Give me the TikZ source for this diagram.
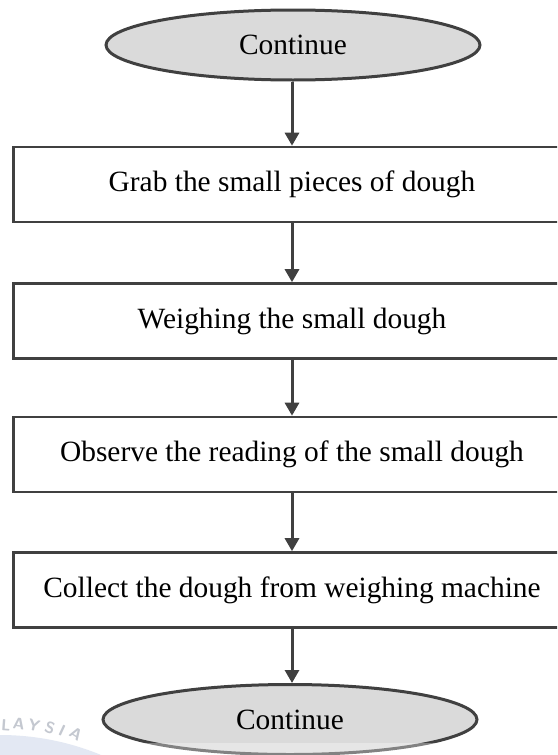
\documentclass[tikz,border=0pt]{standalone}
\usepackage{fontspec}
\setmainfont{Liberation Serif}
\usetikzlibrary{arrows.meta,shapes.geometric}

\definecolor{linegray}{HTML}{404040}
\definecolor{termfill}{HTML}{DADADA}
\definecolor{sealblue}{HTML}{DCE3F0}
\definecolor{sealgray}{HTML}{C4C8D0}

\tikzset{
  terminal/.style={ellipse, draw=linegray, line width=3pt, fill=termfill,
    minimum width=374pt, minimum height=70pt, inner sep=0pt,
    font=\fontsize{29.4}{32}\selectfont},
  process/.style={rectangle, draw=linegray, line width=2.6pt, fill=white,
    minimum width=557pt, minimum height=75pt, inner sep=0pt,
    font=\fontsize{29.4}{32}\selectfont},
  flow/.style={draw=linegray, line width=3pt,
    -{Triangle[width=14pt,length=13pt]}},
  sealtext/.style={text=sealgray, font=\sffamily\bfseries\fontsize{16}{16}\selectfont}
}

\begin{document}
\begin{tikzpicture}[x=1pt,y=-1pt]
  \useasboundingbox (0,0) rectangle (557,755);
  \clip (0,0) rectangle (557,755);
  \fill[white] (0,0) rectangle (557,755);

  % flowchart steps
  \node[terminal] (start) at (293,45)    {Continue};
  \node[process]  (grab)  at (292,184.5) {Grab the small pieces of dough};
  \node[process]  (weigh) at (292,321)   {Weighing the small dough};
  \node[process]  (read)  at (292,454.5) {Observe the reading of the small dough};
  \node[process]  (coll)  at (292,590)   {Collect the dough from weighing machine};
  \node[terminal] (stop)  at (290,719.5) {Continue};

  % connectors
  \draw[flow] (start.south -| grab.north) -- (grab.north);
  \draw[flow] (grab) -- (weigh);
  \draw[flow] (weigh) -- (read);
  \draw[flow] (read) -- (coll);
  \draw[flow] (coll.south) -- (coll.south |- stop.north);

  % faint seal in the lower left corner
  \fill[sealblue, opacity=0.8] (0,1000) circle[radius=265pt];
  \fill[white, opacity=0.35] (100,743) rectangle (557,755);
  \node[sealtext, rotate=-4]  (s1) at (6,725)  {L};
  \node[sealtext, rotate=-8]  (s2) at (19,724) {A};
  \node[sealtext, rotate=-13] (s3) at (34,725) {Y};
  \node[sealtext, rotate=-19] (s4) at (50,728) {S};
  \node[sealtext, rotate=-25] (s5) at (62,731) {I};
  \node[sealtext, rotate=-32] (s6) at (76,734) {A};
\end{tikzpicture}
\end{document}
